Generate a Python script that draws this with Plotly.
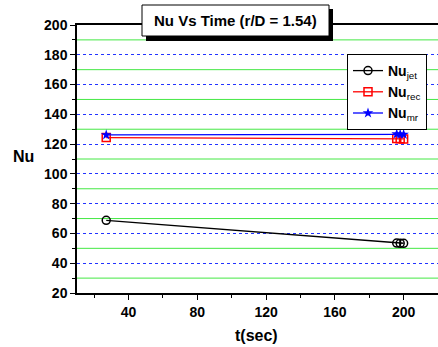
import plotly.graph_objects as go

# ---- data ----
t_sec = [27, 196, 198, 200]
nu_jet = [68.8, 53.5, 53.4, 53.4]
nu_rec = [124.4, 123.8, 123.6, 123.5]
nu_mr = [126.2, 126.8, 126.6, 126.5]

series_names = ["<b>Nu</b><sub>jet</sub>", "<b>Nu</b><sub>rec</sub>", "<b>Nu</b><sub>mr</sub>"]
x_ticks = [40, 80, 120, 160, 200]
x_minor_ticks = [20, 60, 100, 140, 180]
y_ticks = [20, 40, 60, 80, 100, 120, 140, 160, 180, 200]
y_minor_ticks = [30, 50, 70, 90, 110, 130, 150, 170, 190]
title_text = "<b>Nu Vs Time (r/D = 1.54)</b>"
x_title = "<b>t(sec)</b>"
y_title = "<b>Nu</b>"

FONT = "Liberation Sans, Arial, sans-serif"

W, H = 438, 347
L, R, T, B = 77, 0, 25, 54
PW, PH = W - L - R, H - T - B


def px_to_paper_x(px):
    return (px - L) / PW


def px_to_paper_y(py):
    return (H - B - py) / PH


fig = go.Figure()
fig.add_trace(go.Scatter(
    x=t_sec, y=nu_jet, name=series_names[0], mode="lines+markers",
    line=dict(color="black", width=1.3),
    marker=dict(symbol="circle-open", size=8, color="black", line=dict(width=1.5)),
))
fig.add_trace(go.Scatter(
    x=t_sec, y=nu_rec, name=series_names[1], mode="lines+markers",
    line=dict(color="#ff0000", width=1.3),
    marker=dict(symbol="square-open", size=8, color="#ff0000", line=dict(width=1.5)),
))
fig.add_trace(go.Scatter(
    x=t_sec, y=nu_mr, name=series_names[2], mode="lines+markers",
    line=dict(color="#0000ff", width=1.3),
    marker=dict(symbol="star", size=8, color="#0000ff", line=dict(width=0)),
))

fig.update_xaxes(
    range=[10, 220], tickvals=x_ticks, ticks="outside", ticklen=5, tickwidth=1.3,
    tickcolor="black", showline=True, linecolor="black", linewidth=1.5, mirror=True,
    showgrid=False, zeroline=False,
    tickfont=dict(family=FONT, size=14, color="black", weight="bold"),
    minor=dict(tickvals=x_minor_ticks, ticks="outside", ticklen=3,
               tickcolor="black", tickwidth=1, showgrid=False),
)
fig.update_yaxes(
    range=[20, 200], tickvals=y_ticks, ticks="outside", ticklen=5, tickwidth=1.3,
    tickcolor="black", showline=True, linecolor="black", linewidth=1.5,
    showgrid=True, gridcolor="#2233ff", griddash="dot", gridwidth=1, zeroline=False,
    tickfont=dict(family=FONT, size=14, color="black", weight="bold"),
    minor=dict(tickvals=y_minor_ticks, ticks="outside", ticklen=3, tickcolor="black",
               tickwidth=1, showgrid=False),
)

# green minor grid lines, one per minor tick value
shapes = [
    dict(type="line", xref="paper", yref="y", x0=0, x1=1, y0=v, y1=v,
         line=dict(color="#44e844", width=1), layer="below")
    for v in y_minor_ticks
]
shapes += [
    dict(type="rect", xref="paper", yref="paper",
         x0=px_to_paper_x(146), x1=px_to_paper_x(333),
         y0=px_to_paper_y(41), y1=px_to_paper_y(9),
         fillcolor="black", line=dict(width=0), layer="above"),
    dict(type="rect", xref="paper", yref="paper",
         x0=px_to_paper_x(142), x1=px_to_paper_x(329),
         y0=px_to_paper_y(36), y1=px_to_paper_y(5),
         fillcolor="white", line=dict(color="black", width=1), layer="above"),
]

annotations = [
    dict(text=title_text, xref="paper", yref="paper",
         x=px_to_paper_x(235.5), y=px_to_paper_y(20.5), xanchor="center", yanchor="middle",
         showarrow=False, font=dict(family=FONT, size=15, color="black")),
    dict(text=x_title, xref="paper", yref="paper",
         x=px_to_paper_x(256), y=px_to_paper_y(335), xanchor="center", yanchor="middle",
         showarrow=False, font=dict(family=FONT, size=16, color="black")),
    dict(text=y_title, xref="paper", yref="paper",
         x=px_to_paper_x(23), y=px_to_paper_y(156), xanchor="center", yanchor="middle",
         showarrow=False, font=dict(family=FONT, size=16, color="black")),
]

fig.update_layout(
    template="none",
    width=W, height=H, margin=dict(l=L, r=R, t=T, b=B, pad=0),
    paper_bgcolor="white", plot_bgcolor="white",
    shapes=shapes, annotations=annotations,
    showlegend=True,
    legend=dict(x=px_to_paper_x(347), y=px_to_paper_y(54), xanchor="left", yanchor="top",
                bgcolor="white", bordercolor="black", borderwidth=1,
                font=dict(family=FONT, size=14, color="black"),
                itemwidth=30, tracegroupgap=0),
)

fig.write_html(
    "out.html",
    config={"displayModeBar": False},
    post_script="document.body.style.margin='0';document.body.style.overflow='hidden';",
)
